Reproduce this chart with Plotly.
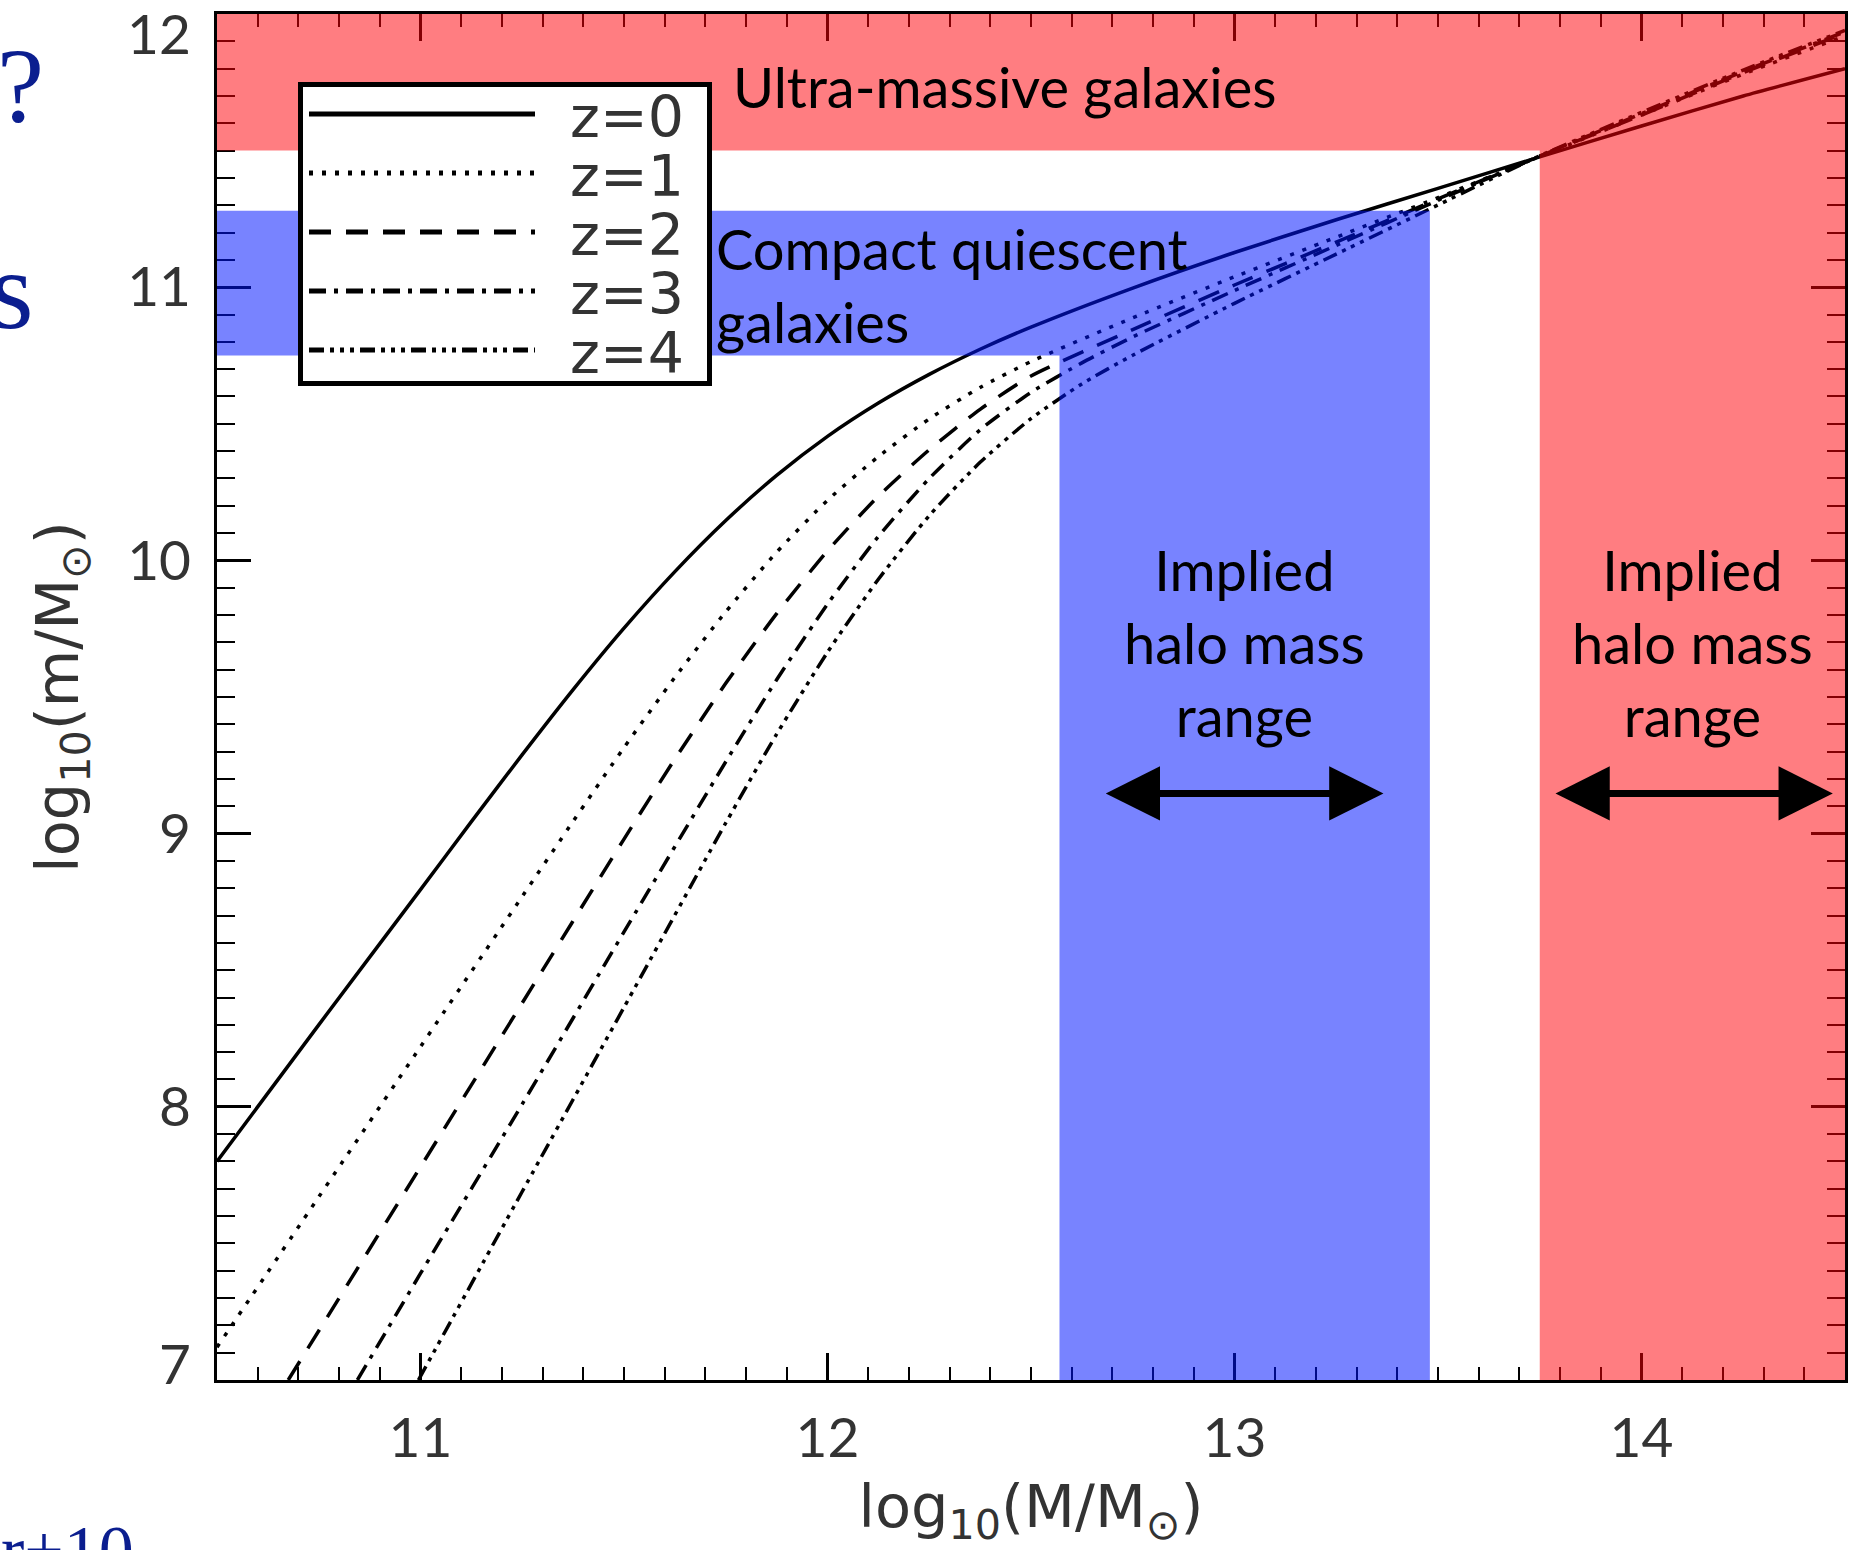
import plotly.graph_objects as go

# ---------------------------------------------------------------------------
# Stellar mass (m) versus halo mass (M), log10 solar masses, one curve per z
# ---------------------------------------------------------------------------
redshift_labels = ["z=0", "z=1", "z=2", "z=3", "z=4"]

halo_z0 = [10.5, 10.75, 11.0, 11.125, 11.25, 11.375, 11.5, 11.625, 11.75, 11.875,
           12.0, 12.125, 12.25, 12.375, 12.5, 12.75, 13.0, 13.25, 13.5, 13.75,
           14.0, 14.25, 14.5]
mstar_z0 = [7.80, 8.30, 8.795, 9.044, 9.289, 9.527, 9.752, 9.959, 10.146, 10.311,
            10.454, 10.576, 10.681, 10.773, 10.854, 10.997, 11.127, 11.247, 11.362, 11.477,
            11.59, 11.70, 11.80]

halo_z1 = [10.5, 10.75, 11.0, 11.25, 11.375, 11.5, 11.625, 11.75, 11.875, 12.0,
           12.125, 12.25, 12.375, 12.5, 12.75, 13.0, 13.25, 13.5, 13.75,
           14.0, 14.25, 14.5]
mstar_z1 = [7.12, 7.67, 8.22, 8.77, 9.045, 9.315, 9.572, 9.812, 10.030, 10.220,
            10.380, 10.518, 10.633, 10.728, 10.888, 11.038, 11.183, 11.328, 11.478,
            11.63, 11.78, 11.92]

halo_z2 = [10.675, 11.0, 11.25, 11.5, 11.625, 11.75, 11.875, 12.0, 12.125, 12.25,
           12.375, 12.5, 12.75, 13.0, 13.25, 13.5, 13.75, 14.0, 14.25, 14.5]
mstar_z2 = [7.0, 7.78, 8.38, 8.98, 9.273, 9.55, 9.805, 10.035, 10.235, 10.405,
            10.553, 10.675, 10.845, 11.008, 11.165, 11.323, 11.48, 11.63, 11.785, 11.93]

halo_z3 = [10.845, 11.0, 11.25, 11.5, 11.75, 11.875, 12.0, 12.125, 12.25, 12.375,
           12.5, 12.625, 12.75, 13.0, 13.25, 13.5, 13.75, 14.0, 14.25, 14.5]
mstar_z3 = [7.0, 7.39, 8.01, 8.64, 9.263, 9.563, 9.84, 10.088, 10.30, 10.478,
            10.615, 10.723, 10.818, 10.988, 11.153, 11.318, 11.48, 11.635, 11.79, 11.935]

halo_z4 = [10.995, 11.25, 11.5, 11.75, 11.875, 12.0, 12.125, 12.25, 12.375, 12.5,
           12.625, 12.75, 13.0, 13.25, 13.5, 13.75, 14.0, 14.25, 14.5]
mstar_z4 = [7.0, 7.69, 8.364, 9.039, 9.364, 9.664, 9.931, 10.164, 10.359, 10.519,
            10.646, 10.751, 10.941, 11.121, 11.301, 11.481, 11.64, 11.795, 11.94]

halo_series = [halo_z0, halo_z1, halo_z2, halo_z3, halo_z4]
mstar_series = [mstar_z0, mstar_z1, mstar_z2, mstar_z3, mstar_z4]

# Selected stellar-mass windows and the halo-mass ranges they imply
compact_mstar = [10.75, 11.28]
compact_halo = [12.57, 13.48]
ultra_mstar = [11.5, 12.0]
ultra_halo = [13.75, 14.5]

halo_range = [10.5, 14.5]
mstar_range = [7.0, 12.0]

halo_ticks = [11, 12, 13, 14]
mstar_ticks = [7, 8, 9, 10, 11, 12]

# ---------------------------------------------------------------------------
W, H = 1859, 1550
ML, MR, MT, MB = 217, 14, 14, 170
PW, PH = W - ML - MR, H - MT - MB


def px_x(px):
    return (px - ML) / PW


def px_y(py):
    return (H - MB - py) / PH


dash_styles = ["solid", "4px,9px", "22px,15px", "17px,8px,4px,8px",
               "15px,6px,4px,6px,4px,6px,4px,6px"]

fig = go.Figure()
for lab, hx, my, dash in zip(redshift_labels, halo_series, mstar_series, dash_styles):
    fig.add_trace(go.Scatter(
        x=hx, y=my, mode="lines", name=lab, showlegend=False,
        line=dict(color="black", width=3.5, dash=dash, shape="spline", smoothing=0.6),
        hoverinfo="skip",
    ))

# Translucent selection bands, laid over the curves and the frame
x_lo, x_hi = halo_range
y_lo, y_hi = mstar_range
blue_path = (f"M {x_lo},{compact_mstar[0]} L {compact_halo[0]},{compact_mstar[0]} "
             f"L {compact_halo[0]},{y_lo} L {compact_halo[1]},{y_lo} "
             f"L {compact_halo[1]},{compact_mstar[1]} L {x_lo},{compact_mstar[1]} Z")
red_path = (f"M {x_lo},{ultra_mstar[0]} L {ultra_halo[0]},{ultra_mstar[0]} "
            f"L {ultra_halo[0]},{y_lo} L {ultra_halo[1]},{y_lo} "
            f"L {ultra_halo[1]},{ultra_mstar[1]} L {x_lo},{ultra_mstar[1]} Z")

shapes = [
    dict(type="path", path=blue_path, xref="x", yref="y", layer="above",
         fillcolor="rgba(0,20,255,0.53)", line=dict(width=0)),
    dict(type="path", path=red_path, xref="x", yref="y", layer="above",
         fillcolor="rgba(255,0,8,0.51)", line=dict(width=0)),
]

# Line-style key in a framed box
box = dict(x0=px_x(300.5), x1=px_x(709.5), y0=px_y(383.5), y1=px_y(84.5))
shapes.append(dict(type="rect", xref="paper", yref="paper", layer="above",
                   fillcolor="white", line=dict(color="black", width=5), **box))
annotations = []
row0, row_step = 114, 59
for i, (lab, dash) in enumerate(zip(redshift_labels, dash_styles)):
    yrow = px_y(row0 + i * row_step)
    shapes.append(dict(type="line", xref="paper", yref="paper", layer="above",
                       x0=px_x(309), x1=px_x(535), y0=yrow, y1=yrow,
                       line=dict(color="black", width=5, dash=dash)))
    annotations.append(dict(x=px_x(568), y=yrow - 0.002, xref="paper", yref="paper",
                            xanchor="left", yanchor="middle", showarrow=False,
                            text=lab, height=56, valign="middle",
                            font=dict(family="DejaVu Sans", size=57, color="#333333")))

label_font = dict(family="Lato", size=56, color="black")
annotations += [
    dict(x=px_x(731), y=px_y(86), xref="paper", yref="paper", xanchor="left",
         yanchor="middle", showarrow=False, text="Ultra-massive galaxies", font=label_font),
    dict(x=px_x(714), y=px_y(285), xref="paper", yref="paper", xanchor="left",
         yanchor="middle", showarrow=False, align="left",
         text="Compact quiescent<br>galaxies", font=label_font),
    dict(x=sum(compact_halo) / 2, y=9.70, xref="x", yref="y", showarrow=False,
         align="center", text="Implied<br>halo mass<br>range", font=label_font),
    dict(x=sum(ultra_halo) / 2, y=9.70, xref="x", yref="y", showarrow=False,
         align="center", text="Implied<br>halo mass<br>range", font=label_font),
]

# Double-headed arrows spanning each implied range
for xa, xb in [(12.68, 13.366), (13.785, 14.47)]:
    annotations.append(dict(x=xb, y=9.147, ax=xa, ay=9.147, xref="x", yref="y",
                            axref="x", ayref="y", text="", showarrow=True,
                            arrowside="end+start", arrowhead=2, startarrowhead=2,
                            arrowsize=1.55, startarrowsize=1.55, arrowwidth=7,
                            arrowcolor="black"))

tick_font = dict(family="Lato", size=55, color="#333333")
title_font = dict(family="DejaVu Sans", size=59, color="#333333")

# End labels of the stellar-mass axis sit just inside the frame
for val, py in [(12, 33), (7, 1363)]:
    annotations.append(dict(x=px_x(193), y=px_y(py), xref="paper", yref="paper",
                            xanchor="right", yanchor="middle", showarrow=False,
                            text=str(val), font=tick_font))
mstar_ticktext = ["" if t in (mstar_ticks[0], mstar_ticks[-1]) else str(t)
                  for t in mstar_ticks]

# Slide text running in from the left edge
serif = dict(family="Liberation Serif", color="#0b1e8f")
annotations += [
    dict(x=px_x(46), y=px_y(86), xref="paper", yref="paper", xanchor="right",
         yanchor="middle", showarrow=False, text="?", font=dict(size=106, **serif)),
    dict(x=px_x(36), y=px_y(290), xref="paper", yref="paper", xanchor="right",
         yanchor="middle", showarrow=False, text="s", font=dict(size=112, **serif)),
    dict(x=px_x(136), y=px_y(1550), xref="paper", yref="paper", xanchor="right",
         yanchor="middle", showarrow=False, text="r+10", font=dict(size=70, **serif)),
]

fig.update_layout(
    width=W, height=H,
    margin=dict(l=ML, r=MR, t=MT, b=MB, pad=0),
    paper_bgcolor="white", plot_bgcolor="white",
    showlegend=False,
    shapes=shapes,
    annotations=annotations,
    xaxis=dict(
        range=halo_range, tickvals=halo_ticks, ticktext=[str(t) for t in halo_ticks],
        showgrid=False, zeroline=False, showline=True, linecolor="black", linewidth=3,
        mirror="allticks", ticks="inside", ticklen=27, tickwidth=2.5, tickcolor="black",
        minor=dict(ticks="inside", dtick=0.1, tick0=10.5, ticklen=13, tickwidth=2,
                   tickcolor="black", showgrid=False),
        tickfont=tick_font, ticklabelstandoff=8, automargin=False,
        title=dict(text="log<sub>10</sub>(M/M<sub>⊙</sub>)", font=title_font, standoff=18),
    ),
    yaxis=dict(
        range=mstar_range, tickvals=mstar_ticks, ticktext=mstar_ticktext,
        showgrid=False, zeroline=False, showline=True, linecolor="black", linewidth=3,
        mirror="allticks", ticks="inside", ticklen=34, tickwidth=2.5, tickcolor="black",
        minor=dict(ticks="inside", dtick=0.1, tick0=7, ticklen=18, tickwidth=2,
                   tickcolor="black", showgrid=False),
        tickfont=tick_font, ticklabelstandoff=12, automargin=False,
        title=dict(text="log<sub>10</sub>(m/M<sub>⊙</sub>)", font=title_font, standoff=30),
    ),
)

fig.write_html("out.html")
